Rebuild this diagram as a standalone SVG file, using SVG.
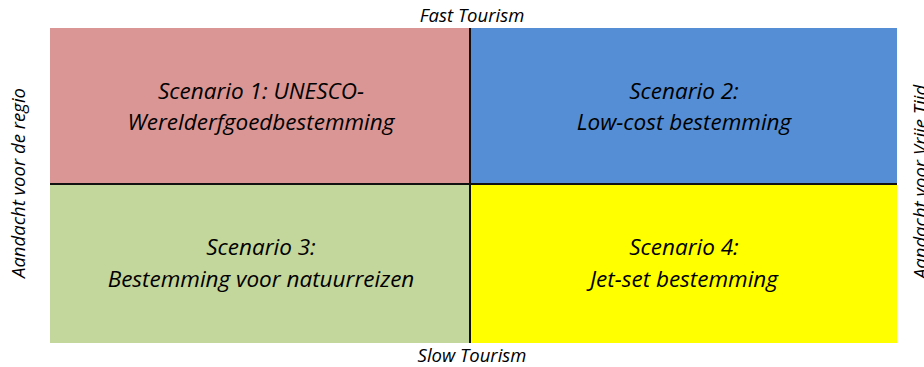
<svg xmlns="http://www.w3.org/2000/svg" width="924" height="367" viewBox="0 0 924 367">
<style>
text{font-family:"Open Sans","Liberation Sans",sans-serif;font-style:italic;fill:#000;text-anchor:middle}
.lbl{font-size:18.5px}
.sc{font-size:22.5px}
.div{stroke:#111;stroke-width:2}
</style>
<rect width="924" height="367" fill="#fff"/>
<g id="q1"><rect x="50" y="28" width="420" height="156" fill="#D99694"/><text class="sc" x="261" y="99">Scenario 1: UNESCO-</text><text class="sc" x="261" y="130">Werelderfgoedbestemming</text></g>
<g id="q2"><rect x="470" y="28" width="427" height="156" fill="#558ED5"/><text class="sc" x="684" y="99">Scenario 2:</text><text class="sc" x="684" y="130">Low-cost bestemming</text></g>
<g id="q3"><rect x="50" y="184" width="420" height="159" fill="#C3D69B"/><text class="sc" x="261" y="255">Scenario 3:</text><text class="sc" x="261" y="287">Bestemming voor natuurreizen</text></g>
<g id="q4"><rect x="470" y="184" width="427" height="159" fill="#FFFF00"/><text class="sc" x="684" y="255">Scenario 4:</text><text class="sc" x="684" y="287">Jet-set bestemming</text></g>
<g id="connectors"><line class="div" x1="470" y1="28" x2="470" y2="343"/><line class="div" x1="50" y1="184" x2="897" y2="184"/></g>
<g id="axes">
<text class="lbl" x="472" y="22">Fast Tourism</text>
<text class="lbl" x="472" y="362">Slow Tourism</text>
<text class="lbl" transform="translate(25 183) rotate(-90)">Aandacht voor de regio</text>
<text class="lbl" transform="translate(927 182) rotate(-90)">Aandacht voor Vrije Tijd</text>
</g>
</svg>
